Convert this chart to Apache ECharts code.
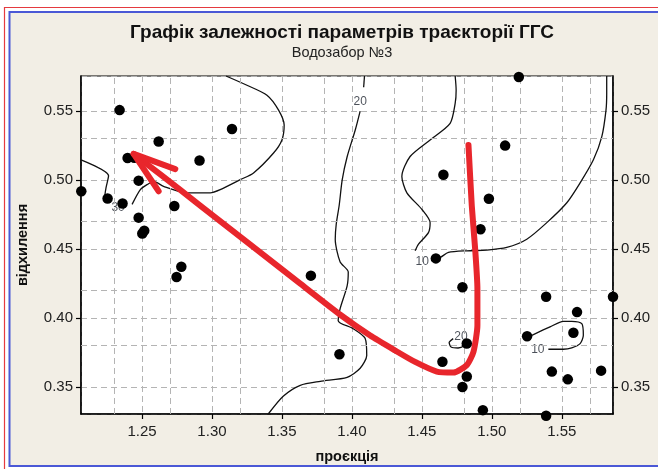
<!DOCTYPE html>
<html><head><meta charset="utf-8">
<script src="https://cdn.jsdelivr.net/npm/echarts@6/dist/echarts.min.js"></script>
<style>html,body{margin:0;padding:0;background:#fff}#c{width:658px;height:469px}</style>
</head><body><div id="c"></div>
<script>
// ---- data ----
const xMin = 1.2064, xMax = 1.5866;
const yMin = 0.3304, yMax = 0.5752;
const xMinorGrid = [1.225, 1.275, 1.325, 1.375, 1.425, 1.475, 1.525, 1.575];
const yMinorGrid = [0.375, 0.425, 0.475, 0.525];

const pointX = [1.234, 1.3143, 1.2619, 1.2397, 1.2445, 1.2911, 1.2476, 1.2066, 1.2254, 1.2361,
  1.2731, 1.2476, 1.2516, 1.2502, 1.2781, 1.2747, 1.3707, 1.3911, 1.5193, 1.5095,
  1.4654, 1.4979, 1.4919, 1.46, 1.479, 1.5388, 1.5866, 1.5609, 1.5252, 1.5583,
  1.4821, 1.4647, 1.4821, 1.479, 1.4936, 1.5388, 1.5429, 1.5543, 1.5781];
const pointY = [0.5505, 0.5368, 0.5277, 0.5158, 0.516, 0.514, 0.4994, 0.4917, 0.4865, 0.4829,
  0.481, 0.4726, 0.4632, 0.4611, 0.437, 0.4296, 0.4306, 0.3737, 0.5745, 0.5248,
  0.5037, 0.4863, 0.4642, 0.4431, 0.4222, 0.4153, 0.4153, 0.4042, 0.3867, 0.3893,
  0.3814, 0.3683, 0.3575, 0.35, 0.3332, 0.3291, 0.3611, 0.3555, 0.3618];

const contour30a = [[1.2064,0.5145],[1.2261,0.5030],[1.2243,0.4944],[1.2233,0.4879]];
const contour30b = [[1.2429,0.4822],[1.2488,0.4929],[1.2536,0.4965],[1.2583,0.4989],[1.2654,0.4953],
  [1.2821,0.4906],[1.2988,0.4906],[1.3059,0.4929],[1.3202,0.5001],[1.3297,0.505],[1.344,0.5194],
  [1.35,0.5289],[1.3516,0.5397],[1.3476,0.5505],[1.3393,0.5613],[1.325,0.5685],[1.31,0.5752]];
const contour20a = [[1.409,0.5752],[1.4084,0.5671]];
const contour20b = [[1.4059,0.5498],[1.4024,0.5361],[1.3966,0.5167],[1.3931,0.5001],[1.3909,0.4814],
  [1.3888,0.4678],[1.3881,0.457],[1.3916,0.4405],[1.3974,0.4333],[1.3966,0.4232],[1.3916,0.4067],
  [1.3902,0.398],[1.4009,0.3922],[1.4095,0.3851],[1.4106,0.3728],[1.4059,0.3635],[1.3966,0.357],
  [1.3774,0.3541],[1.3631,0.3512],[1.3509,0.3433],[1.3402,0.3304]];
const contour10a = [[1.4738,0.5752],[1.4745,0.5649],[1.4738,0.5553],[1.4702,0.5409],[1.4559,0.5289],
  [1.4416,0.5169],[1.4357,0.5025],[1.4393,0.4906],[1.45,0.4786],[1.4559,0.469],[1.4547,0.4618],
  [1.4476,0.4534],[1.4452,0.4486]];
const contour10b = [[1.46,0.4431],[1.4631,0.4438],[1.469,0.4474],[1.4821,0.4486],[1.4964,0.4491],
  [1.5107,0.451],[1.525,0.457],[1.5393,0.469],[1.5536,0.4834],[1.5631,0.4978],[1.5726,0.5145],
  [1.5786,0.5313],[1.5816,0.5505],[1.5821,0.5625],[1.5821,0.5752]];
const contour20small = [[1.4724,0.385],[1.4695,0.3821],[1.4709,0.3789],[1.4759,0.3782],[1.4809,0.38],[1.4845,0.3829]];
const contour10small = [[1.5286,0.3874],[1.5416,0.3935],[1.5511,0.3975],[1.5571,0.3975],[1.5643,0.3958],
  [1.5654,0.3874],[1.5631,0.3814],[1.5571,0.3783],[1.5511,0.3773],[1.5404,0.3773]];
const contourLabels = [[1.4059,0.5565,'20'],[1.2329,0.4798,'30'],[1.4503,0.4404,'10'],[1.478,0.3863,'20'],[1.5329,0.3771,'10']];

const arrowPath = [[1.4833,0.5253],[1.4857,0.4809],[1.4881,0.4498],[1.4897,0.421],[1.4897,0.3946],
  [1.4869,0.3755],[1.4821,0.3658],[1.4726,0.3604],[1.4607,0.3611],[1.4452,0.3681],[1.4309,0.3764],
  [1.4131,0.3872],[1.3917,0.4023],[1.3631,0.4248],[1.3274,0.4531],[1.2916,0.4814],[1.2631,0.504],
  [1.244,0.5188]];
const arrowHead = [[1.2738,0.5078],[1.244,0.5188],[1.2619,0.4917]];

const titleText = 'Графік залежності параметрів траєкторії ГГС';
const subTitleText = 'Водозабор №3';
const xName = 'проєкція';
const yName = 'відхилення';

// ---- chart ----
const chart = echarts.init(document.getElementById('c'), null, {renderer: 'canvas'});
const FONT = 'Liberation Sans';
const gridLine = {show: true, lineStyle: {color: '#b4b4b4', type: [6, 4], width: 1}};
const contourStyle = {color: '#111', width: 1.3};
function contourSeries(d) {
  return {type: 'line', data: d, showSymbol: false, symbol: 'none', smooth: 0.25,
    lineStyle: contourStyle, z: 3, silent: true, animation: false};
}
const axisLabelStyle = {color: '#222', fontFamily: FONT, fontSize: 15,
  formatter: v => v.toFixed(2), showMinLabel: false, showMaxLabel: false};

const option = {
  animation: false,
  textStyle: {fontFamily: FONT},
  title: {
    text: titleText, subtext: subTitleText, left: 337, top: 18, textAlign: 'center', itemGap: 3,
    textStyle: {fontFamily: FONT, fontSize: 19, fontWeight: 'bold', color: '#111'},
    subtextStyle: {fontFamily: FONT, fontSize: 14.5, color: '#222'}
  },
  graphic: [
    {type: 'rect', z: -20, silent: true, shape: {x: 4.5, y: 7.5, width: 700, height: 500},
      style: {fill: '#ffffff', stroke: '#e53a3f', lineWidth: 1.2}},
    {type: 'rect', z: -19, silent: true, shape: {x: 9.5, y: 12, width: 700, height: 454},
      style: {fill: '#f2eee5', stroke: '#4b58d6', lineWidth: 2}}
  ],
  grid: {left: 81, right: 45, top: 76, bottom: 53, show: true, backgroundColor: '#ffffff',
    borderColor: '#000', borderWidth: 1.2},
  xAxis: {
    type: 'value', min: xMin, max: xMax, minInterval: 0.05, maxInterval: 0.05,
    name: xName, nameLocation: 'middle', nameGap: 35,
    nameTextStyle: {fontFamily: FONT, fontSize: 14.5, fontWeight: 'bold', color: '#111'},
    axisLine: {lineStyle: {color: '#000', width: 1.5}},
    axisTick: {show: true, length: 5, lineStyle: {color: '#000', width: 1.2}},
    axisLabel: Object.assign({margin: 10}, axisLabelStyle),
    splitLine: gridLine
  },
  yAxis: [{
    type: 'value', min: yMin, max: yMax, minInterval: 0.05, maxInterval: 0.05,
    name: yName, nameLocation: 'middle', nameGap: 51,
    nameTextStyle: {fontFamily: FONT, fontSize: 14.5, fontWeight: 'bold', color: '#111'},
    axisLine: {show: true, lineStyle: {color: '#000', width: 1.5}},
    axisTick: {show: true, length: 5, lineStyle: {color: '#000', width: 1.2}},
    axisLabel: Object.assign({margin: 8}, axisLabelStyle),
    splitLine: gridLine
  }, {
    type: 'value', min: yMin, max: yMax, minInterval: 0.05, maxInterval: 0.05, position: 'right',
    axisLine: {show: true, lineStyle: {color: '#000', width: 1.5}},
    axisTick: {show: true, length: 5, lineStyle: {color: '#000', width: 1.2}},
    axisLabel: Object.assign({margin: 8}, axisLabelStyle),
    splitLine: {show: false}
  }],
  series: [
    {type: 'line', data: [], silent: true, z: 1,
      markLine: {silent: true, symbol: 'none', label: {show: false}, animation: false,
        lineStyle: {color: '#b4b4b4', type: [6, 4], width: 1},
        data: xMinorGrid.map(v => ({xAxis: v})).concat(yMinorGrid.map(v => ({yAxis: v})))}},
    contourSeries(contour30a), contourSeries(contour30b),
    contourSeries(contour20a), contourSeries(contour20b),
    contourSeries(contour10a), contourSeries(contour10b),
    contourSeries(contour20small), contourSeries(contour10small),
    {type: 'scatter', data: contourLabels, symbolSize: 1, itemStyle: {color: 'transparent'}, z: 4,
      silent: true,
      label: {show: true, position: 'inside', formatter: p => p.value[2], fontFamily: FONT,
        fontSize: 12, color: '#1e2430'}},
    {type: 'scatter', data: pointX.map((x, i) => [x, pointY[i]]), symbol: 'circle', symbolSize: 10.5,
      itemStyle: {color: '#000', opacity: 1}, clip: false, z: 5, silent: true},
    {type: 'line', data: arrowPath, showSymbol: false, symbol: 'none', smooth: 0.2, z: 8,
      lineStyle: {color: '#e8262c', width: 6, cap: 'round', join: 'round'}, silent: true},
    {type: 'line', data: arrowHead, showSymbol: false, symbol: 'none', smooth: false, z: 8,
      lineStyle: {color: '#e8262c', width: 6, cap: 'round', join: 'round'}, silent: true}
  ]
};
chart.setOption(option);
</script></body></html>
